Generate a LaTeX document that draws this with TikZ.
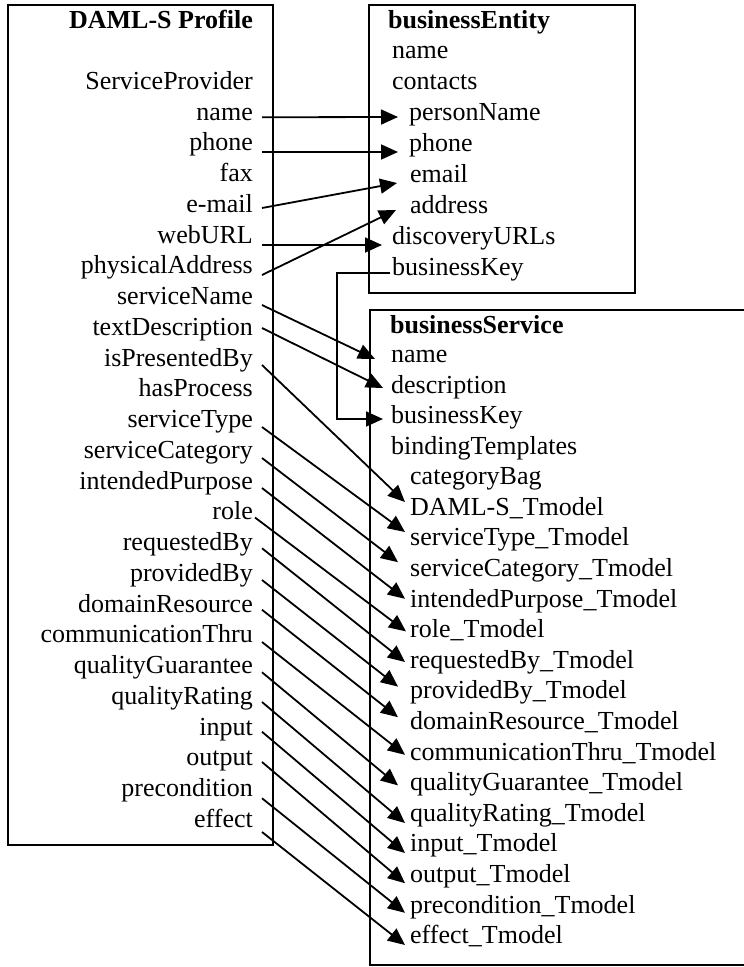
\documentclass[tikz,border=0pt]{standalone}
\usepackage{fontspec}
\setmainfont{Liberation Serif}
\usetikzlibrary{arrows.meta}
\begin{document}
\begin{tikzpicture}[x=1pt,y=-1pt,
  every node/.style={inner sep=0pt, font=\fontsize{26}{30}\selectfont},
  lab/.style={anchor=mid east},
  item/.style={anchor=mid west},
  heading/.style={font=\fontsize{26}{30}\selectfont\bfseries},
  frame/.style={draw, line width=2pt},
  link/.style={line width=1.8pt, -{Triangle[length=17pt,width=15pt]}}]
\fill[white] (0,0) rectangle (744,967);
\useasboundingbox (0,0) rectangle (744,967);

% frames
\draw[frame] (8,5) rectangle (273,845);
\draw[frame] (369,5) rectangle (635,293);
\draw[frame] (370,310) rectangle (760,965);

% DAML-S profile column
\node[heading, lab] (profile) at (253,26) {DAML-S Profile};
\node[lab] (pSP)    at (253,87)     {ServiceProvider};
\node[lab] (pName)  at (253,117.75) {name};
\node[lab] (pPhone) at (253,148.5)  {phone};
\node[lab] (pFax)   at (253,179.25) {fax};
\node[lab] (pMail)  at (253,210)    {e-mail};
\node[lab] (pWeb)   at (253,240.75) {webURL};
\node[lab] (pAddr)  at (253,271.5)  {physicalAddress};
\node[lab] (pSName) at (253,302.25) {serviceName};
\node[lab] (pText)  at (253,333)    {textDescription};
\node[lab] (pPres)  at (253,363.75) {isPresentedBy};
\node[lab] (pProc)  at (253,394.5)  {hasProcess};
\node[lab] (pType)  at (253,425.25) {serviceType};
\node[lab] (pCat)   at (253,456)    {serviceCategory};
\node[lab] (pPurp)  at (253,486.75) {intendedPurpose};
\node[lab] (pRole)  at (253,517.5)  {role};
\node[lab] (pReq)   at (253,548.25) {requestedBy};
\node[lab] (pProv)  at (253,579)    {providedBy};
\node[lab] (pDom)   at (253,609.75) {domainResource};
\node[lab] (pComm)  at (253,640.5)  {communicationThru};
\node[lab] (pQG)    at (253,671.25) {qualityGuarantee};
\node[lab] (pQR)    at (253,702)    {qualityRating};
\node[lab] (pIn)    at (253,732.75) {input};
\node[lab] (pOut)   at (253,763.5)  {output};
\node[lab] (pPre)   at (253,794.25) {precondition};
\node[lab] (pEff)   at (253,825)    {effect};

% businessEntity
\node[heading, item] (entity) at (388,26) {businessEntity};
\node[item] (eName)     at (392,56)  {name};
\node[item] (eContacts) at (392,87)  {contacts};
\node[item] (ePerson)   at (409,118) {personName};
\node[item] (ePhone)    at (409,149) {phone};
\node[item] (eMail)     at (410,180) {email};
\node[item] (eAddr)     at (410,211) {address};
\node[item] (eDisc)     at (392,242) {discoveryURLs};
\node[item] (eKey)      at (392,273) {businessKey};

% businessService
\node[heading, item] (service) at (390,331) {businessService};
\node[item] (sName) at (391,360) {name};
\node[item] (sDesc) at (391,391) {description};
\node[item] (sKey)  at (391,421) {businessKey};
\node[item] (sBind) at (391,452) {bindingTemplates};
\node[item] (sBag)  at (410,482.4) {categoryBag};
\node[item] (sDaml) at (410,513)   {DAML-S\_Tmodel};
\node[item] (sType) at (410,543.6) {serviceType\_Tmodel};
\node[item] (sCat)  at (410,574.2) {serviceCategory\_Tmodel};
\node[item] (sPurp) at (410,604.8) {intendedPurpose\_Tmodel};
\node[item] (sRole) at (410,635.4) {role\_Tmodel};
\node[item] (sReq)  at (410,666)   {requestedBy\_Tmodel};
\node[item] (sProv) at (410,696.6) {providedBy\_Tmodel};
\node[item] (sDom)  at (410,727.2) {domainResource\_Tmodel};
\node[item] (sComm) at (410,757.8) {communicationThru\_Tmodel};
\node[item] (sQG)   at (410,788.4) {qualityGuarantee\_Tmodel};
\node[item] (sQR)   at (410,819)   {qualityRating\_Tmodel};
\node[item] (sIn)   at (410,849.6) {input\_Tmodel};
\node[item] (sOut)  at (410,880.2) {output\_Tmodel};
\node[item] (sPre)  at (410,910.8) {precondition\_Tmodel};
\node[item] (sEff)  at (410,941.4) {effect\_Tmodel};

% profile -> businessEntity
\draw[link] ([shift={(9,-0.5)}]pName.mid east)  -- ([shift={(-11,-1)}]ePerson.mid west);
\draw[link] ([shift={(9,3.5)}]pPhone.mid east)  -- ([shift={(-11,3)}]ePhone.mid west);
\draw[link] ([shift={(9,-2)}]pMail.mid east)    -- ([shift={(-13,3)}]eMail.mid west);
\draw[link] ([shift={(9,4.25)}]pWeb.mid east)   -- ([shift={(-10,3)}]eDisc.mid west);
\draw[link] ([shift={(9,3.5)}]pAddr.mid east)   -- ([shift={(-14,-1)}]eAddr.mid west);

% businessKey carried over to the service
\draw[link] ([shift={(-2,0)}]eKey.mid west) -- ++(-53,0) |- ([shift={(-8,-2)}]sKey.mid west);

% profile -> businessService
\draw[link] ([shift={(9,2.75)}]pSName.mid east) -- ([shift={(-16,-1)}]sName.mid west);
\draw[link] ([shift={(9,-5)}]pText.mid east)    -- ([shift={(-8,-3)}]sDesc.mid west);
\draw[link] ([shift={(9,1.25)}]pPres.mid east)  -- ([shift={(-5,-11)}]sDaml.mid west);
\draw[link] ([shift={(9,1.75)}]pType.mid east)  -- ([shift={(-5,-11.6)}]sType.mid west);
\draw[link] ([shift={(9,2)}]pCat.mid east)      -- ([shift={(-12,-12)}]sCat.mid west);
\draw[link] ([shift={(9,1.25)}]pPurp.mid east)  -- ([shift={(-5,-6)}]sPurp.mid west);
\draw[link] ([shift={(2,0)}]pRole.mid east)     -- ([shift={(-4,-4)}]sRole.mid west);
\draw[link] ([shift={(9,0)}]pReq.mid east)      -- ([shift={(-5,-4)}]sReq.mid west);
\draw[link] ([shift={(9,1)}]pProv.mid east)     -- ([shift={(-12,-10)}]sProv.mid west);
\draw[link] ([shift={(9,0)}]pDom.mid east)      -- ([shift={(-12,-10)}]sDom.mid west);
\draw[link] ([shift={(9,1.5)}]pComm.mid east)   -- ([shift={(-5,-3)}]sComm.mid west);
\draw[link] ([shift={(9,1)}]pQG.mid east)       -- ([shift={(-12,-3)}]sQG.mid west);
\draw[link] ([shift={(9,0)}]pQR.mid east)       -- ([shift={(-5,4)}]sQR.mid west);
\draw[link] ([shift={(9,-1)}]pIn.mid east)      -- ([shift={(-5,3.4)}]sIn.mid west);
\draw[link] ([shift={(9,-1.5)}]pOut.mid east)   -- ([shift={(-5,3)}]sOut.mid west);
\draw[link] ([shift={(9,4)}]pPre.mid east)      -- ([shift={(-5,2)}]sPre.mid west);
\draw[link] ([shift={(9,7)}]pEff.mid east)      -- ([shift={(-5,3.6)}]sEff.mid west);
\end{tikzpicture}
\end{document}
